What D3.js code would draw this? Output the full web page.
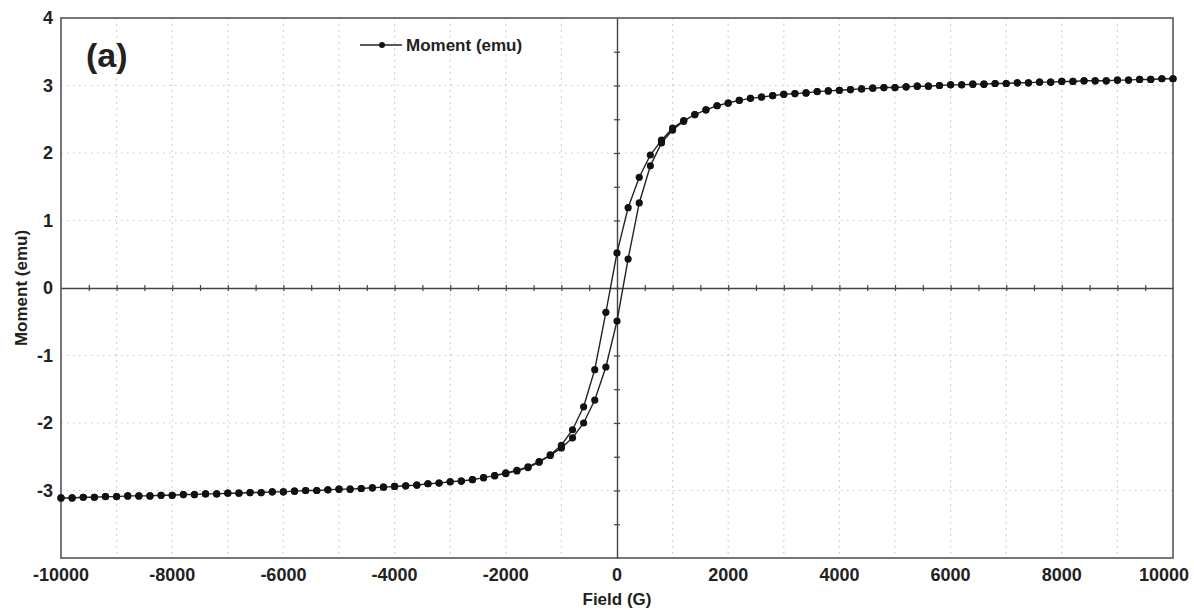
<!DOCTYPE html>
<html>
<head>
<meta charset="utf-8">
<script src="https://cdn.jsdelivr.net/npm/d3@7"></script>
<style>
  body { margin: 0; background: #fff; }
  text { font-family: Arial, "Liberation Sans", sans-serif; font-weight: bold; fill: #222; }
</style>
</head>
<body>
<div id="chart"></div>
<script>
// field values (G), one per measured point
const fieldValues = [
  -10000, -9800, -9600, -9400, -9200, -9000, -8800, -8600, -8400, -8200,
  -8000, -7800, -7600, -7400, -7200, -7000, -6800, -6600, -6400, -6200,
  -6000, -5800, -5600, -5400, -5200, -5000, -4800, -4600, -4400, -4200,
  -4000, -3800, -3600, -3400, -3200, -3000, -2800, -2600, -2400, -2200,
  -2000, -1800, -1600, -1400, -1200, -1000, -800, -600, -400, -200,
  0, 200, 400, 600, 800, 1000, 1200, 1400, 1600, 1800,
  2000, 2200, 2400, 2600, 2800, 3000, 3200, 3400, 3600, 3800,
  4000, 4200, 4400, 4600, 4800, 5000, 5200, 5400, 5600, 5800,
  6000, 6200, 6400, 6600, 6800, 7000, 7200, 7400, 7600, 7800,
  8000, 8200, 8400, 8600, 8800, 9000, 9200, 9400, 9600, 9800, 10000
];
// ascending branch (field swept from -10000 up to 10000)
const momentAscending = [
  -3.11, -3.11, -3.10, -3.10, -3.09, -3.09, -3.08, -3.08, -3.08, -3.07,
  -3.07, -3.06, -3.06, -3.05, -3.05, -3.04, -3.04, -3.03, -3.03, -3.02,
  -3.02, -3.01, -3.00, -3.00, -2.99, -2.98, -2.98, -2.97, -2.96, -2.95,
  -2.94, -2.93, -2.92, -2.90, -2.89, -2.87, -2.86, -2.84, -2.81, -2.78,
  -2.75, -2.71, -2.66, -2.58, -2.48, -2.37, -2.22, -2.00, -1.66, -1.17,
  -0.49, 0.43, 1.26, 1.81, 2.15, 2.34, 2.47, 2.57, 2.64, 2.70,
  2.74, 2.78, 2.81, 2.83, 2.85, 2.87, 2.88, 2.89, 2.91, 2.92,
  2.93, 2.94, 2.95, 2.96, 2.97, 2.97, 2.98, 2.99, 2.99, 3.00,
  3.01, 3.01, 3.02, 3.02, 3.03, 3.03, 3.04, 3.04, 3.05, 3.05,
  3.06, 3.06, 3.07, 3.07, 3.07, 3.08, 3.08, 3.09, 3.09, 3.10, 3.10
];
// descending branch (field swept from 10000 down to -10000), listed by field ascending
const momentDescending = [
  -3.11, -3.11, -3.10, -3.10, -3.09, -3.09, -3.08, -3.08, -3.08, -3.07,
  -3.07, -3.06, -3.06, -3.05, -3.05, -3.04, -3.04, -3.03, -3.03, -3.02,
  -3.02, -3.01, -3.00, -3.00, -2.99, -2.98, -2.98, -2.97, -2.96, -2.95,
  -2.94, -2.93, -2.92, -2.90, -2.89, -2.87, -2.86, -2.84, -2.81, -2.78,
  -2.74, -2.70, -2.65, -2.57, -2.47, -2.33, -2.10, -1.76, -1.21, -0.36,
  0.52, 1.19, 1.64, 1.97, 2.19, 2.37, 2.48, 2.57, 2.64, 2.70,
  2.74, 2.78, 2.81, 2.83, 2.85, 2.87, 2.88, 2.89, 2.91, 2.92,
  2.93, 2.94, 2.95, 2.96, 2.97, 2.97, 2.98, 2.99, 2.99, 3.00,
  3.01, 3.01, 3.02, 3.02, 3.03, 3.03, 3.04, 3.04, 3.05, 3.05,
  3.06, 3.06, 3.07, 3.07, 3.07, 3.08, 3.08, 3.09, 3.09, 3.10, 3.10
];
const xTickLabels = [-10000, -8000, -6000, -4000, -2000, 0, 2000, 4000, 6000, 8000, 10000];
const yTickLabels = [-3, -2, -1, 0, 1, 2, 3, 4];
const seriesName = "Moment (emu)";

const width = 1194, height = 611;
const margin = {left: 61, right: 21, top: 18, bottom: 53};

const svg = d3.select("#chart").append("svg")
    .attr("width", width).attr("height", height);

const x = d3.scaleLinear().domain([-10000, 10000]).range([margin.left, width - margin.right]);
const y = d3.scaleLinear().domain([-4, 4]).range([height - margin.bottom, margin.top]);

// dotted grid
const gridColor = "#c8c8c8";
svg.append("g").selectAll("line")
    .data(d3.range(-9000, 10000, 1000).filter(d => d !== 0))
    .join("line")
    .attr("x1", d => x(d)).attr("x2", d => x(d))
    .attr("y1", y(4)).attr("y2", y(-4))
    .attr("stroke", gridColor).attr("stroke-width", 1.2)
    .attr("stroke-dasharray", "1.5,4.5");
svg.append("g").selectAll("line")
    .data([-3, -2, -1, 1, 2, 3])
    .join("line")
    .attr("x1", x(-10000)).attr("x2", x(10000))
    .attr("y1", d => y(d)).attr("y2", d => y(d))
    .attr("stroke", gridColor).attr("stroke-width", 1.2)
    .attr("stroke-dasharray", "1.5,4.5");

// frame
svg.append("rect")
    .attr("x", x(-10000)).attr("y", y(4))
    .attr("width", x(10000) - x(-10000)).attr("height", y(-4) - y(4))
    .attr("fill", "none").attr("stroke", "#555").attr("stroke-width", 1.6);

// centre axes with crossing ticks
const xCenter = svg.append("g")
    .attr("transform", `translate(0,${y(0)})`)
    .call(d3.axisBottom(x).tickValues(d3.range(-9500, 10000, 500)).tickSizeOuter(0).tickFormat(""));
const yCenter = svg.append("g")
    .attr("transform", `translate(${x(0)},0)`)
    .call(d3.axisLeft(y).tickValues(d3.range(-3.5, 4, 0.5)).tickSizeOuter(0).tickFormat(""));
xCenter.selectAll(".tick line").attr("y1", -3).attr("y2", 3);
yCenter.selectAll(".tick line").attr("x1", -3).attr("x2", 3);
[xCenter, yCenter].forEach(g => {
  g.select(".domain").attr("stroke", "#444").attr("stroke-width", 1.4);
  g.selectAll(".tick line").attr("stroke", "#444").attr("stroke-width", 1.2);
});

// outer tick labels
svg.append("g").selectAll("text")
    .data(xTickLabels)
    .join("text")
    .attr("x", d => d === 10000 ? x(d) - 9 : x(d))
    .attr("y", 581)
    .attr("text-anchor", "middle")
    .attr("font-size", 18)
    .text(d => d);
svg.append("g").selectAll("text")
    .data(yTickLabels)
    .join("text")
    .attr("x", 53)
    .attr("y", d => y(d))
    .attr("dy", "0.36em")
    .attr("text-anchor", "end")
    .attr("font-size", 18)
    .text(d => d);

// axis titles
svg.append("text")
    .attr("x", x(0)).attr("y", 605)
    .attr("text-anchor", "middle").attr("font-size", 17)
    .text("Field (G)");
svg.append("text")
    .attr("transform", `translate(21,${y(0)}) rotate(-90)`)
    .attr("dy", "0.36em")
    .attr("text-anchor", "middle").attr("font-size", 17)
    .text("Moment (emu)");

// panel label
svg.append("text")
    .attr("x", 86).attr("y", 67)
    .attr("font-size", 34)
    .text("(a)");

// data: full loop, down from +10000 then back up
const descending = fieldValues.map((f, i) => ({f, m: momentDescending[i]})).reverse();
const ascending = fieldValues.map((f, i) => ({f, m: momentAscending[i]}));
const loop = descending.concat(ascending);

const line = d3.line().x(d => x(d.f)).y(d => y(d.m));
svg.append("path")
    .datum(loop)
    .attr("d", line)
    .attr("fill", "none")
    .attr("stroke", "#222")
    .attr("stroke-width", 1.4);
svg.append("g").selectAll("circle")
    .data(loop)
    .join("circle")
    .attr("cx", d => x(d.f))
    .attr("cy", d => y(d.m))
    .attr("r", 3.6)
    .attr("fill", "#111");

// legend
const legend = svg.append("g").attr("transform", "translate(360,45)");
legend.append("line").attr("x1", 0).attr("x2", 42)
    .attr("stroke", "#222").attr("stroke-width", 1.3);
legend.append("circle").attr("cx", 22).attr("r", 3).attr("fill", "#111");
legend.append("text").attr("x", 46).attr("dy", "0.36em")
    .attr("font-size", 17).text(seriesName);
</script>
</body>
</html>
